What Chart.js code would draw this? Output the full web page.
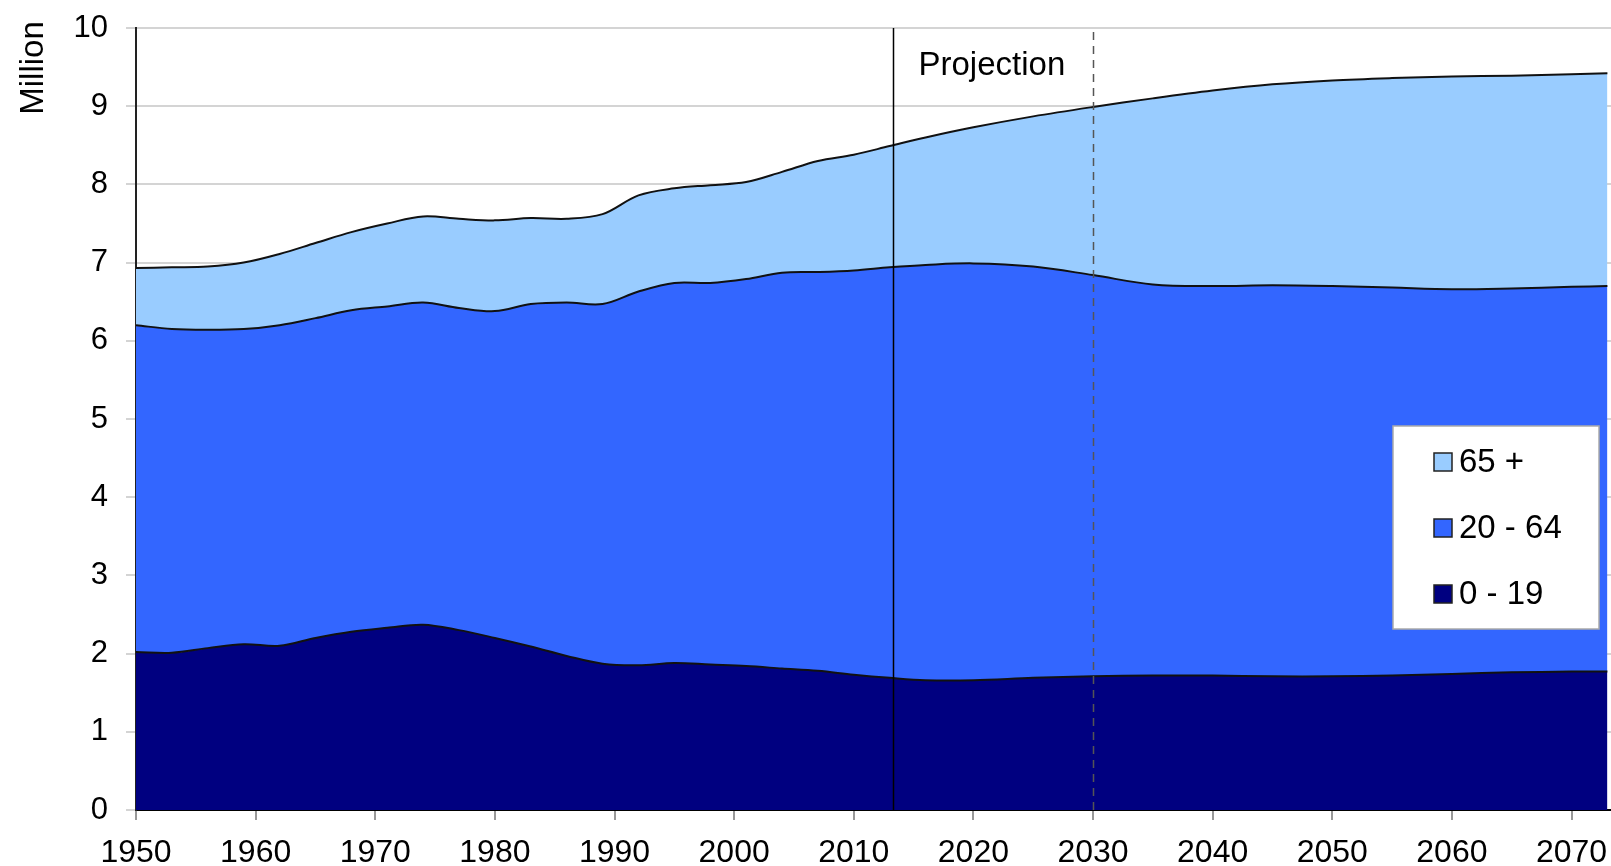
<!DOCTYPE html>
<html>
<head>
<meta charset="utf-8">
<script src="https://cdn.jsdelivr.net/npm/chart.js@4.4.1/dist/chart.umd.min.js"></script>
<style>
  body { margin: 0; background: #fff; }
  #wrap { width: 1611px; height: 866px; }
</style>
</head>
<body>
<div id="wrap"><canvas id="popchart"></canvas></div>
<script>
const years = [1950, 1953, 1956, 1959, 1962, 1965, 1968, 1971, 1974, 1977, 1980, 1983, 1986, 1989, 1992, 1995, 1998, 2001, 2004, 2007, 2010, 2013, 2016, 2020, 2025, 2030, 2035, 2040, 2045, 2050, 2055, 2060, 2065, 2070, 2073];

// million persons per age group
const age0to19 = [2.02, 2.01, 2.07, 2.12, 2.10, 2.20, 2.28, 2.33, 2.37, 2.30, 2.20, 2.09, 1.97, 1.87, 1.85, 1.88, 1.86, 1.84, 1.81, 1.78, 1.73, 1.69, 1.66, 1.66, 1.69, 1.71, 1.72, 1.72, 1.71, 1.71, 1.72, 1.74, 1.76, 1.77, 1.77];
const age20to64 = [4.18, 4.14, 4.07, 4.03, 4.10, 4.09, 4.11, 4.11, 4.12, 4.12, 4.18, 4.38, 4.52, 4.60, 4.78, 4.86, 4.88, 4.95, 5.06, 5.10, 5.17, 5.25, 5.31, 5.33, 5.26, 5.13, 5.00, 4.98, 5.00, 4.99, 4.96, 4.92, 4.91, 4.92, 4.93];
const age65plus = [0.73, 0.79, 0.81, 0.85, 0.91, 0.96, 1.00, 1.06, 1.10, 1.14, 1.16, 1.10, 1.07, 1.15, 1.23, 1.21, 1.25, 1.24, 1.29, 1.42, 1.48, 1.55, 1.63, 1.74, 1.92, 2.15, 2.38, 2.50, 2.57, 2.63, 2.68, 2.72, 2.72, 2.72, 2.72];

const xTicks = [1950, 1960, 1970, 1980, 1990, 2000, 2010, 2020, 2030, 2040, 2050, 2060, 2070];
const yTicks = [0, 1, 2, 3, 4, 5, 6, 7, 8, 9, 10];

const projectionYear = 2013.3;
const markerYear = 2030;

const FONT = '"Liberation Sans", Arial, sans-serif';

function pts(vals) {
    return years.map((yr, i) => ({ x: yr, y: vals[i] }));
}

const overlays = {
    id: 'overlays',
    afterDatasetsDraw(chart) {
        const { ctx, chartArea: a, scales: { x } } = chart;
        ctx.save();

        // start of projection
        let px = Math.round(x.getPixelForValue(projectionYear)) + 0.5;
        ctx.strokeStyle = '#000';
        ctx.lineWidth = 1.5;
        ctx.beginPath();
        ctx.moveTo(px, a.top);
        ctx.lineTo(px, a.bottom);
        ctx.stroke();

        ctx.font = '33px ' + FONT;
        ctx.fillStyle = '#000';
        ctx.textBaseline = 'middle';
        ctx.fillText('Projection', px + 25, 66);

        // dashed marker
        let dx = Math.round(x.getPixelForValue(markerYear)) + 0.5;
        ctx.strokeStyle = '#555';
        ctx.setLineDash([8, 6]);
        ctx.beginPath();
        ctx.moveTo(dx, a.top + 4);
        ctx.lineTo(dx, a.bottom);
        ctx.stroke();
        ctx.setLineDash([]);

        // legend box
        const bx = 1393, by = 426, bw = 206, bh = 203;
        ctx.fillStyle = '#fff';
        ctx.fillRect(bx, by, bw, bh);
        ctx.strokeStyle = '#aaa';
        ctx.lineWidth = 1.5;
        ctx.strokeRect(bx, by, bw, bh);

        const items = chart.data.datasets.slice().reverse();
        const rowY = [462, 528, 594];
        ctx.font = '33px ' + FONT;
        items.forEach((ds, i) => {
            const cy = rowY[i];
            ctx.fillStyle = ds.backgroundColor;
            ctx.fillRect(1434, cy - 9, 18, 18);
            ctx.strokeStyle = '#222';
            ctx.lineWidth = 1.5;
            ctx.strokeRect(1434, cy - 9, 18, 18);
            ctx.fillStyle = '#000';
            ctx.fillText(ds.label, 1459, cy + 1);
        });

        // y axis title
        ctx.translate(34, 68);
        ctx.rotate(-Math.PI / 2);
        ctx.textAlign = 'center';
        ctx.font = '33px ' + FONT;
        ctx.fillText('Million', 0, 0);

        ctx.restore();
    }
};

new Chart('popchart', {
    type: 'line',
    data: {
        datasets: [{
            label: '0 - 19',
            data: pts(age0to19),
            backgroundColor: '#000080',
            fill: 'origin'
        }, {
            label: '20 - 64',
            data: pts(age20to64),
            backgroundColor: '#3366FF',
            fill: '-1'
        }, {
            label: '65 +',
            data: pts(age65plus),
            backgroundColor: '#99CCFF',
            fill: '-1'
        }]
    },
    options: {
        animation: false,
        responsive: true,
        maintainAspectRatio: false,
        layout: { padding: { top: 28, right: 0, left: 0, bottom: 0 } },
        elements: {
            line: { borderColor: '#111', borderWidth: 2, tension: 0.35 },
            point: { radius: 0 }
        },
        plugins: {
            legend: { display: false },
            tooltip: { enabled: false }
        },
        scales: {
            x: {
                type: 'linear',
                min: 1950,
                max: 2073.3,
                afterBuildTicks: s => { s.ticks = xTicks.map(v => ({ value: v })); },
                afterFit: s => {
                    s.height = 56;
                    s.paddingLeft = 0;
                    s.paddingRight = 0;
                },
                grid: { drawOnChartArea: false, tickLength: 10, color: '#999', lineWidth: 2 },
                border: { color: '#000', width: 2 },
                ticks: {
                    color: '#000',
                    padding: 14,
                    maxRotation: 0,
                    callback: v => String(v),
                    font: { family: FONT, size: 32 }
                }
            },
            y: {
                stacked: true,
                min: 0,
                max: 10,
                afterBuildTicks: s => { s.ticks = yTicks.map(v => ({ value: v })); },
                afterFit: s => {
                    s.width = 136;
                    s.paddingTop = 0;
                    s.paddingBottom = 0;
                },
                grid: { color: '#d4d4d4', lineWidth: 2, tickLength: 10 },
                border: { color: '#222', width: 2 },
                ticks: {
                    color: '#000',
                    padding: 18,
                    font: { family: FONT, size: 31 }
                }
            }
        }
    },
    plugins: [overlays]
});
</script>
</body>
</html>
